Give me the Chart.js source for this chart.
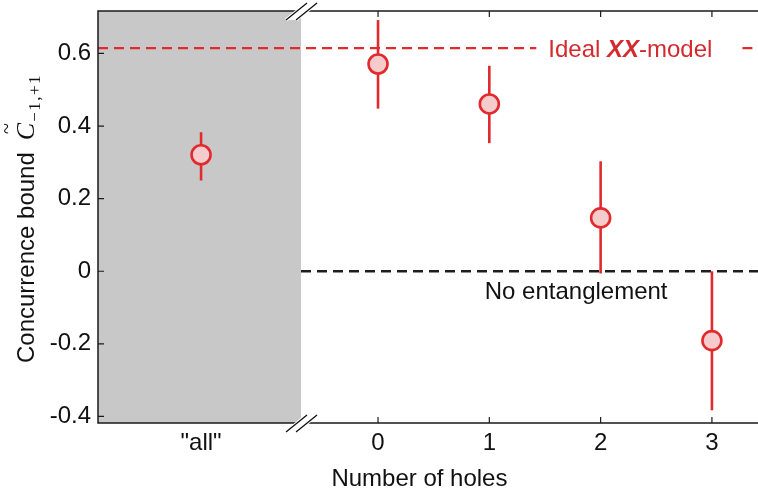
<!DOCTYPE html>
<html><head><meta charset="utf-8">
<script src="https://cdn.jsdelivr.net/npm/chart.js@4/dist/chart.umd.min.js"></script>
<style>html,body{margin:0;padding:0;background:#fff;}canvas{display:block}</style>
</head><body>
<canvas id="c" width="758" height="494"></canvas>
<script>
// ---- data ----
const categories = ['"all"', '0', '1', '2', '3'];
const categoryX = [-1.59, 0, 1, 2, 3];
const concurrence = [0.321, 0.571, 0.461, 0.147, -0.191];
const errLow = [0.250, 0.448, 0.353, -0.006, -0.383];
const errHigh = [0.383, 0.692, 0.566, 0.303, 0.000];
const idealXX = 0.615;
const noEntanglement = 0;
const yTickValues = [-0.4, -0.2, 0, 0.2, 0.4, 0.6];
const yTickLabels = ['-0.4', '-0.2', '0', '0.2', '0.4', '0.6'];
const xTickMarks = [0, 1, 2, 3];
const allGroupEnd = -0.692;

const RED = '#e02a2d';
const FONT = 'Liberation Sans, Arial, Helvetica, sans-serif';

const deco = {
  id: 'deco',
  beforeDatasetsDraw(chart) {
    const { ctx, chartArea: a, scales: { x, y } } = chart;
    ctx.save();
    // grey "all" region
    const xb = x.getPixelForValue(allGroupEnd);
    ctx.fillStyle = '#c8c8c8';
    ctx.fillRect(a.left, a.top, xb - a.left, a.bottom - a.top);

    // Ideal XX-model line with text gap
    const yi = y.getPixelForValue(idealXX);
    ctx.font = '24px ' + FONT;
    const tx = x.getPixelForValue(1.53);
    const w1 = ctx.measureText('Ideal ').width;
    ctx.font = 'italic bold 24px ' + FONT;
    const w2 = ctx.measureText('XX').width;
    ctx.font = '24px ' + FONT;
    const w3 = ctx.measureText('-model').width;
    const tEnd = tx + w1 + w2 + w3;
    ctx.strokeStyle = RED; ctx.lineWidth = 2.2; ctx.setLineDash([10, 6]);
    ctx.beginPath();
    ctx.moveTo(a.left, yi); ctx.lineTo(tx - 12, yi);
    ctx.moveTo(tEnd + 30, yi); ctx.lineTo(a.right, yi);
    ctx.stroke();
    ctx.setLineDash([]);
    ctx.fillStyle = '#d42a2e';
    ctx.textBaseline = 'alphabetic'; ctx.textAlign = 'left';
    ctx.fillText('Ideal ', tx, yi + 9);
    ctx.font = 'italic bold 24px ' + FONT;
    ctx.fillText('XX', tx + w1, yi + 9);
    ctx.font = '24px ' + FONT;
    ctx.fillText('-model', tx + w1 + w2, yi + 9);

    // No entanglement line
    const y0 = y.getPixelForValue(noEntanglement);
    ctx.strokeStyle = '#1e1e1e'; ctx.lineWidth = 2.5; ctx.setLineDash([10, 6]);
    ctx.beginPath(); ctx.moveTo(xb, y0); ctx.lineTo(a.right, y0); ctx.stroke();
    ctx.setLineDash([]);
    ctx.fillStyle = '#111';
    ctx.textAlign = 'center';
    ctx.fillText('No entanglement', x.getPixelForValue(1.78), y0 + 28);

    // error bars
    ctx.strokeStyle = RED; ctx.lineWidth = 2.6;
    categoryX.forEach((cx, i) => {
      const px = x.getPixelForValue(cx);
      ctx.beginPath();
      ctx.moveTo(px, y.getPixelForValue(errLow[i]));
      ctx.lineTo(px, y.getPixelForValue(errHigh[i]));
      ctx.stroke();
    });
    ctx.restore();
  },
  afterDatasetsDraw(chart) {
    const { ctx, chartArea: a, scales: { x, y } } = chart;
    ctx.save();
    ctx.strokeStyle = '#1a1a1a'; ctx.lineWidth = 1.5;
    ctx.beginPath();
    ctx.moveTo(a.right, a.top); ctx.lineTo(a.left, a.top); ctx.lineTo(a.left, a.bottom); ctx.lineTo(a.right, a.bottom);
    ctx.stroke();
    // inward ticks
    ctx.lineWidth = 1.2;
    ctx.beginPath();
    yTickValues.forEach(v => { const py = y.getPixelForValue(v); ctx.moveTo(a.left, py); ctx.lineTo(a.left + 6, py); });
    xTickMarks.forEach(v => {
      const px = x.getPixelForValue(v);
      ctx.moveTo(px, a.bottom); ctx.lineTo(px, a.bottom - 6);
      ctx.moveTo(px, a.top); ctx.lineTo(px, a.top + 6);
    });
    ctx.stroke();
    // axis break marks
    const xb = x.getPixelForValue(allGroupEnd);
    [a.top, a.bottom].forEach(yy => {
      ctx.fillStyle = '#fff';
      ctx.beginPath();
      ctx.moveTo(xb - 15, yy + 9); ctx.lineTo(xb + 6, yy - 8);
      ctx.lineTo(xb + 16, yy - 8); ctx.lineTo(xb - 5, yy + 9); ctx.closePath();
      ctx.fill();
      ctx.strokeStyle = '#fff'; ctx.lineWidth = 3.2;
      ctx.beginPath();
      ctx.moveTo(xb - 15, yy + 9); ctx.lineTo(xb + 6, yy - 8);
      ctx.moveTo(xb - 5, yy + 9); ctx.lineTo(xb + 16, yy - 8);
      ctx.stroke();
      ctx.strokeStyle = '#111'; ctx.lineWidth = 1.3;
      ctx.beginPath();
      ctx.moveTo(xb - 15, yy + 9); ctx.lineTo(xb + 6, yy - 8);
      ctx.moveTo(xb - 5, yy + 9); ctx.lineTo(xb + 16, yy - 8);
      ctx.stroke();
    });
    // x-axis title
    ctx.fillStyle = '#111';
    ctx.font = '24px ' + FONT;
    ctx.textAlign = 'center'; ctx.textBaseline = 'alphabetic';
    ctx.fillText('Number of holes', a.left + (a.right - a.left) * 0.487, 486);
    // y-axis title
    ctx.translate(34, 363);
    ctx.rotate(-Math.PI / 2);
    ctx.textAlign = 'left';
    const t = 'Concurrence bound';
    ctx.fillText(t, 0, 0);
    let cx = ctx.measureText(t).width + 12;
    ctx.font = 'italic 26px "Liberation Serif", "DejaVu Serif", serif';
    ctx.fillText('C', cx, 0);
    const cw = ctx.measureText('C').width;
    ctx.font = '20px "Liberation Serif", "DejaVu Serif", serif';
    ctx.fillText('~', cx + cw * 0.35, -21);
    ctx.font = '17px "Liberation Serif", "DejaVu Serif", serif';
    ctx.letterSpacing = '1.5px';
    ctx.fillText('\u22121,+1', cx + cw + 1, 6);
    ctx.restore();
  }
};

new Chart(document.getElementById('c').getContext('2d'), {
  type: 'scatter',
  data: {
    datasets: [{
      data: categoryX.map((cx, i) => ({ x: cx, y: concurrence[i] })),
      pointRadius: 9.5, pointHoverRadius: 9.5, borderWidth: 2.6,
      borderColor: RED, backgroundColor: '#f6cbcb'
    }]
  },
  options: {
    responsive: false, devicePixelRatio: 1, animation: false,
    layout: { autoPadding: false, padding: { top: 11, left: 0, right: 0, bottom: 0 } },
    plugins: { legend: { display: false }, tooltip: { enabled: false } },
    scales: {
      x: {
        type: 'linear', min: -2.516, max: 3.414,
        grid: { display: false, drawTicks: false }, border: { display: false },
        afterBuildTicks: s => { s.ticks = categoryX.map(v => ({ value: v })); },
        afterFit: s => { s.height = 71; s.paddingLeft = 0; s.paddingRight = 0; },
        ticks: { autoSkip: false, maxRotation: 0, padding: 6, color: '#111',
          font: { family: FONT, size: 24 }, callback: (v, i) => categories[i] },
        title: { display: false }
      },
      y: {
        min: -0.418, max: 0.717,
        grid: { display: false, drawTicks: false }, border: { display: false },
        afterBuildTicks: s => { s.ticks = yTickValues.map(v => ({ value: v })); },
        afterFit: s => { s.width = 98; s.paddingTop = 0; s.paddingBottom = 0; },
        ticks: { padding: 7, color: '#111', font: { family: FONT, size: 24 },
          callback: (v, i) => yTickLabels[i] }
      }
    }
  },
  plugins: [deco]
});
</script>
</body></html>
